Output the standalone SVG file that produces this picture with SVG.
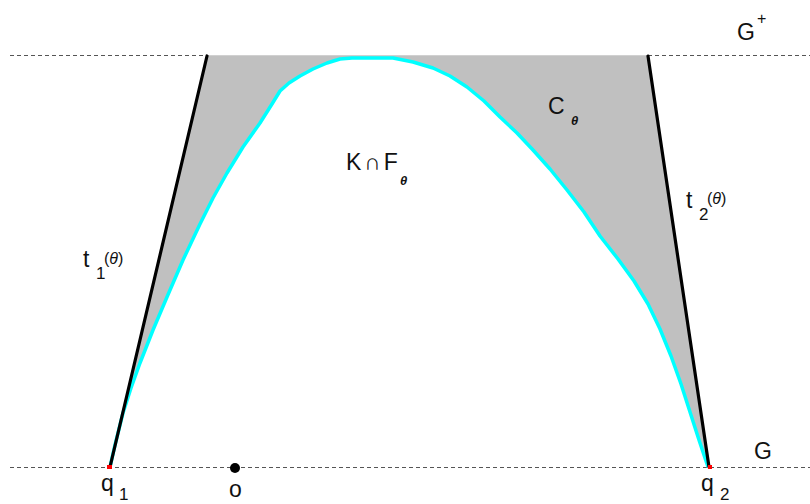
<svg xmlns="http://www.w3.org/2000/svg" width="810" height="504" viewBox="0 0 810 504">
<style>
.lbl{font-family:"Liberation Sans",Arial,sans-serif;font-size:23px;fill:#111}
.sub{font-family:"Liberation Sans",Arial,sans-serif;font-size:17px;fill:#111}
.sup{font-family:"Liberation Sans",Arial,sans-serif;font-size:16px;fill:#111}
.th{font-family:"Liberation Sans",Arial,sans-serif;font-size:13px;font-style:italic;font-weight:bold;fill:#111}
.dash{stroke:#555;stroke-width:1;stroke-dasharray:4 3;fill:none}
.tan{stroke:#000;stroke-width:3.2;fill:none;stroke-linecap:round}
</style>
<defs>
<path id="kcurve" d="M110,467 L115,445 L123,413 L131,388 L140,363 L153,330 L167,297 L183,260 L200,224 L213,198 L227,173 L243,147 L260,123 L272,104 L280,91 L289,83 L300,76 L313,69 L327,63 L340,59 L352,58 L393,58 L413,62 L433,68 L450,76 L467,87 L484,101 L500,117 L517,133 L533,150 L550,169 L567,190 L584,212 L600,236 L618,259 L634,281 L648,304 L660,329 L671,356 L681,384 L690,412 L699,440 L708,467"/>
</defs>
<rect width="810" height="504" fill="#fff"/>
<g id="guides">
<line class="dash" x1="10" y1="55.5" x2="207" y2="55.5"/>
<line class="dash" x1="648" y1="55.5" x2="810" y2="55.5"/>
<line class="dash" x1="10" y1="467.5" x2="810" y2="467.5"/>
</g>
<g id="region-C">
<path d="M110,467 L207,55 L648,55 L709,467 L708,467 L699,440 L690,412 L681,384 L671,356 L660,329 L648,304 L634,281 L618,259 L600,236 L584,212 L567,190 L550,169 L533,150 L517,133 L500,117 L484,101 L467,87 L450,76 L433,68 L413,62 L393,58 L352,58 L340,59 L327,63 L313,69 L300,76 L289,83 L280,91 L272,104 L260,123 L243,147 L227,173 L213,198 L200,224 L183,260 L167,297 L153,330 L140,363 L131,388 L123,413 L115,445 Z" fill="#c0c0c0" stroke="none"/>
<line x1="207" y1="55.5" x2="648" y2="55.5" stroke="#d0d0d0" stroke-width="1"/>
</g>
<g id="curve-K">
<use href="#kcurve" fill="none" stroke="#00ffff" stroke-width="3.5" stroke-linejoin="round"/>
</g>
<g id="connectors">
<line class="tan" x1="110" y1="467" x2="207" y2="56"/>
<line class="tan" x1="709" y1="467" x2="648" y2="56"/>
</g>
<g id="q1">
<rect x="107" y="465" width="5" height="4" fill="#ff0000"/>
<text class="lbl" x="101" y="491">q</text>
<text class="sub" x="119" y="500" font-size="14">1</text>
</g>
<g id="q2">
<rect x="708" y="465" width="4" height="4" fill="#ff0000"/>
<text class="lbl" x="701" y="491">q</text>
<text class="sub" x="720" y="500" font-size="14">2</text>
</g>
<g id="o">
<circle cx="235" cy="468" r="5" fill="#000"/>
<text class="lbl" x="229" y="497">o</text>
</g>
<g id="label-Gplus">
<text class="lbl" x="737" y="40">G</text>
<text class="sup" x="757" y="24">+</text>
</g>
<g id="label-G">
<text class="lbl" x="754" y="459">G</text>
</g>
<g id="label-C">
<text class="lbl" x="548" y="114">C</text>
<text class="th" x="571" y="125">θ</text>
</g>
<g id="label-KF">
<text class="lbl" x="346" y="170" letter-spacing="3">K∩F</text>
<text class="th" x="400" y="185">θ</text>
</g>
<g id="label-t1">
<text class="lbl" x="83" y="267">t</text>
<text class="sub" x="96" y="279">1</text>
<text class="sup" x="104" y="264">(<tspan font-style="italic">θ</tspan>)</text>
</g>
<g id="label-t2">
<text class="lbl" x="686" y="208">t</text>
<text class="sub" x="699" y="220">2</text>
<text class="sup" x="707" y="204">(<tspan font-style="italic">θ</tspan>)</text>
</g>
</svg>
